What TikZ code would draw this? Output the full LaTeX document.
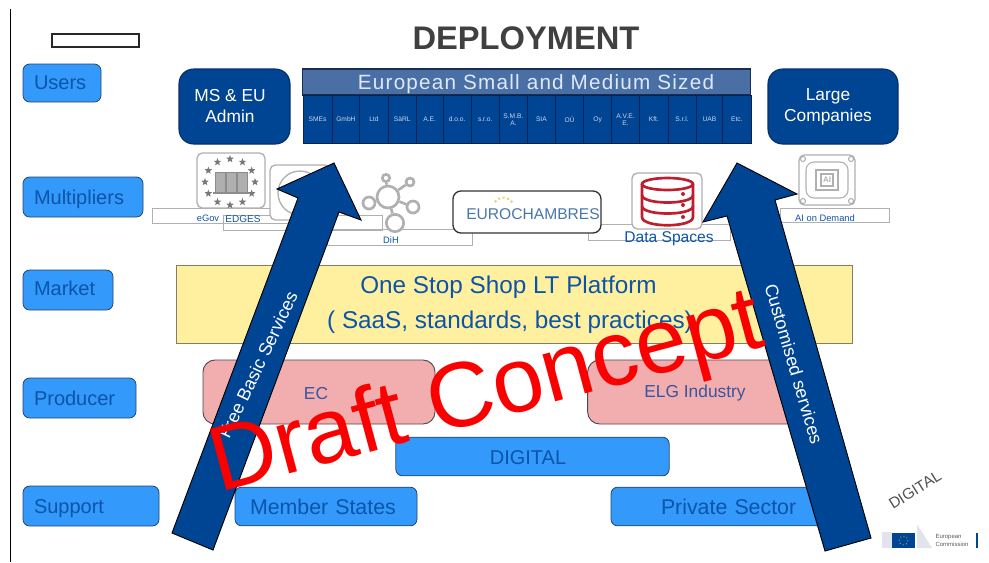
\documentclass[tikz,border=0pt]{standalone}
\usepackage{fontspec}
\setmainfont{Liberation Sans}
\usetikzlibrary{shapes.geometric}
\definecolor{dkblue}{RGB}{0,68,148}
\definecolor{ltblue}{RGB}{51,153,250}
\definecolor{txblue}{RGB}{12,84,170}
\definecolor{hdblue}{RGB}{74,111,165}
\definecolor{pinkfill}{RGB}{242,174,174}
\definecolor{yelbox}{RGB}{255,240,160}
\definecolor{iconrim}{RGB}{176,176,176}
\definecolor{draftred}{RGB}{250,0,0}
\definecolor{markpale}{RGB}{225,228,235}
\definecolor{dbred}{RGB}{190,30,45}
\tikzset{
  rolebox/.style={draw={rgb,255:red,35;green,70;blue,110},fill=ltblue,rounded corners=5pt,line width=0.6pt,text=txblue,align=left,font=\fontsize{15}{18}\selectfont,inner xsep=8.25pt,inner ysep=0pt,text height=13.5pt,text depth=3pt},
  adminbox/.style={draw={rgb,255:red,10;green,45;blue,100},fill=dkblue,rounded corners=11pt,line width=0.8pt,inner sep=0pt},
  admintext/.style={text=white,align=center,font=\fontsize{13}{15.75}\selectfont,inner sep=0pt},
  sizecell/.style={draw={rgb,255:red,10;green,35;blue,80},fill=dkblue,line width=0.6pt,text={rgb,255:red,200;green,215;blue,240},align=center,font=\fontsize{5}{5.5}\selectfont,inner sep=0pt},
  pinkbox/.style={draw={rgb,255:red,80;green,70;blue,80},fill=pinkfill,rounded corners=9pt,line width=0.7pt,inner sep=0pt},
  pinktext/.style={text={rgb,255:red,55;green,85;blue,160},font=\fontsize{13}{16}\selectfont,inner sep=0pt},
  labelbox/.style={draw=iconrim,line width=0.6pt},
  iconbox/.style={draw=iconrim,line width=1pt,rounded corners=4pt,fill=white},
  looptext/.style={text=txblue,font=\fontsize{7}{8}\selectfont,inner sep=0pt},
  hubdot/.style={circle,draw=iconrim,line width=2pt,fill=white,inner sep=0pt},
  bigarrow/.style={draw=black,fill=dkblue,line width=0.7pt,line join=miter},
  arrowtext/.style={text=white,font=\fontsize{13.5}{16}\selectfont,inner sep=0pt},
  shoptext/.style={text=txblue,inner sep=0pt,font=\fontsize{18.2}{21}\selectfont},
}
\begin{document}
\begin{tikzpicture}[x=0.75pt,y=0.75pt,yscale=-1,xscale=1]
\useasboundingbox (0,0) rectangle (989,562);

% frame line and empty box
\draw [line width=0.6pt] (10,9) -- (10,562) ;
\draw [line width=1.2pt,draw={rgb,255:red,40;green,40;blue,40}] (52,34) rectangle (139,47) ;

% Title
\node (title) at (526,38) [text={rgb,255:red,64;green,64;blue,64},inner sep=0pt,font=\fontsize{24.5}{30}\selectfont\bfseries] {DEPLOYMENT};

% Left column
\node (users) [rolebox,text height=12pt,text width=42pt,minimum height=28.5pt] at (62,83) {Users};
\node (multipliers) [rolebox,text width=73.5pt,minimum height=30pt] at (83,197) {Multipliers};
\node (market) [rolebox,text height=10.5pt,text width=51pt,minimum height=30pt] at (68,290) {Market};
\node (producer) [rolebox,text width=68.25pt,minimum height=30pt] at (79.5,398) {Producer};
\node (support) [rolebox,text width=85.5pt,minimum height=30pt] at (91,506) {Support};

% Users row
\node (admin) [adminbox,minimum width=83.25pt,minimum height=56.25pt] at (234.5,106.5) {};
\node (admintx) [admintext] at (230,106.5) {MS \& EU\\Admin};
\node (large) [adminbox,minimum width=97.5pt,minimum height=56.25pt] at (833,106.5) {};
\node (largetx) [admintext] at (828,106.5) {Large\\Companies};
\node (header) [draw={rgb,255:red,25;green,45;blue,80},fill=hdblue,line width=0.8pt,inner sep=0pt,minimum width=335.5pt,minimum height=19.5pt] at (526.5,82) {};
\node (headertx) [text={rgb,255:red,222;green,232;blue,248},inner sep=0pt,font=\fontsize{15.5}{18}\selectfont\addfontfeature{LetterSpace=6}] at (536,84) {European Small and Medium Sized};

% Size cells
\node (c1) [sizecell,anchor=north west,minimum width=21.75pt,minimum height=36pt] at (302.7,95) {SMEs};
\node (c2) [sizecell,anchor=north west,minimum width=20.7pt,minimum height=36pt] at (331.7,95) {GmbH};
\node (c3) [sizecell,anchor=north west,minimum width=21.3pt,minimum height=36pt] at (359.3,95) {Ltd};
\node (c4) [sizecell,anchor=north west,minimum width=21.2pt,minimum height=36pt] at (387.7,95) {SàRL};
\node (c5) [sizecell,anchor=north west,minimum width=20pt,minimum height=36pt] at (416,95) {A.E.};
\node (c6) [sizecell,anchor=north west,minimum width=21pt,minimum height=36pt] at (442.7,95) {d.o.o.};
\node (c7) [sizecell,anchor=north west,minimum width=21.2pt,minimum height=36pt] at (470.7,95) {s.r.o.};
\node (c8) [sizecell,anchor=north west,minimum width=21pt,minimum height=36pt] at (499,95) {S.M.B.\\A.};
\node (c9) [sizecell,anchor=north west,minimum width=21pt,minimum height=36pt] at (527,95) {SIA};
\node (c10) [sizecell,anchor=north west,minimum width=21.2pt,minimum height=36pt] at (555,95) {OÜ};
\node (c11) [sizecell,anchor=north west,minimum width=20.8pt,minimum height=36pt] at (583.3,95) {Oy};
\node (c12) [sizecell,anchor=north west,minimum width=21.2pt,minimum height=36pt] at (611,95) {A.V.E.\\E.};
\node (c13) [sizecell,anchor=north west,minimum width=21.3pt,minimum height=36pt] at (639.3,95) {Kft.};
\node (c14) [sizecell,anchor=north west,minimum width=21pt,minimum height=36pt] at (667.7,95) {S.r.l.};
\node (c15) [sizecell,anchor=north west,minimum width=20pt,minimum height=36pt] at (695.7,95) {UAB};
\node (c16) [sizecell,anchor=north west,minimum width=21.3pt,minimum height=36pt] at (722.3,95) {Etc.};

% Label frames of the multipliers
\draw [labelbox] (152,208) rectangle (300,223) ;
\draw [labelbox] (223,215) rectangle (382,230) ;
\draw [labelbox] (327,229) rectangle (472,245) ;
\draw [labelbox] (588,224) rectangle (730,240) ;
\draw [labelbox] (780,208) rectangle (889,222) ;

% eGov icon
\draw [iconbox] (197,153) rectangle (265,208) ;
\foreach \a in {0,30,...,330}
  \node [star,star points=5,star point ratio=2.4,fill={rgb,255:red,120;green,120;blue,120},inner sep=0pt,minimum size=6pt] at ({230+25*cos(\a)},{182+23*sin(\a)}) {};
\foreach \x in {215,226,237}
  \draw [fill={rgb,255:red,175;green,175;blue,175},draw={rgb,255:red,140;green,140;blue,140},line width=0.5pt] (\x,172) rectangle ++(10,20) ;
\draw [draw={rgb,255:red,140;green,140;blue,140},line width=1pt] (213,193) -- (249,193) ;

% EDGES icon
\draw [iconbox] (270,165) rectangle (330,220) ;
\draw [iconrim,line width=1pt] (300,193) circle [radius=22] ;

% DiH icon
\node (hub) [hubdot,minimum size=16.5pt] at (388,197) {};
\node (dh1) [hubdot,minimum size=5.5pt] at (386,178) {};
\node (dh2) [hubdot,minimum size=6pt] at (410,182) {};
\node (dh3) [hubdot,minimum size=9pt] at (369,203) {};
\node (dh4) [hubdot,minimum size=9pt] at (413,207) {};
\node (dh5) [hubdot,minimum size=13pt] at (395,223) {};
\draw [iconrim,line width=2pt] (hub) -- (dh1) (hub) -- (dh2) (hub) -- (dh3) (hub) -- (dh4) (hub) -- (dh5) ;

% Eurochambres
\draw [draw={rgb,255:red,50;green,50;blue,50},line width=1pt,rounded corners=6pt,fill=white] (453,191) rectangle (601,233) ;
\node (euro) at (533,214) [text={rgb,255:red,72;green,118;blue,170},inner sep=0pt,font=\fontsize{11.7}{14}\selectfont] {EUROCHAMBRES};
\draw [draw={rgb,255:red,230;green,205;blue,90},line width=1.4pt,dotted] (495,202) .. controls (500,196) and (507,196) .. (513,203) ;

% Data spaces icon
\draw [iconbox] (632,173) rectangle (702,229) ;
\draw [dbred,line width=2pt] (642,184) -- (642,217) .. controls (642,228) and (693,228) .. (693,217) -- (693,184) ;
\draw [dbred,line width=2pt] (667.5,184) ellipse [x radius=25.5,y radius=6] ;
\draw [dbred,line width=2pt] (642,195) .. controls (642,205) and (693,205) .. (693,195) (642,206) .. controls (642,216) and (693,216) .. (693,206) ;
\fill [dbred] (683,194) circle [radius=2] (683,205) circle [radius=2] (683,217) circle [radius=2] ;

% AI icon
\draw [iconbox] (799,155) rectangle (855,205) ;
\draw [iconrim,line width=0.8pt,rounded corners=6pt] (806,162) rectangle (848,198) ;
\draw [iconrim,line width=1pt] (816,170) rectangle (838,190) ;
\draw [iconrim,line width=0.8pt] (821,174) rectangle (833,186) ;
\foreach \x/\y in {803/159,851/159,803/201,851/201}
  \draw [iconrim,line width=0.8pt] (\x,\y) circle [radius=2.5] ;
\node (ai) at (827,180) [text=iconrim,inner sep=0pt,font=\fontsize{6}{7}\selectfont\bfseries] {AI};

% Multiplier labels
\node (egov) [looptext] at (208,218) {eGov};
\node (edges) [looptext,font=\fontsize{7.5}{9}\selectfont] at (243,219) {EDGES};
\node (dih) [looptext] at (391,240) {DiH};
\node (spaces) [text=txblue,inner sep=0pt,font=\fontsize{11.7}{14}\selectfont] at (669,239) {Data Spaces};
\node (demand) [looptext] at (825,218) {AI on Demand};

% Market
\node (platform) [draw={rgb,255:red,130;green,125;blue,100},fill=yelbox,line width=0.5pt,inner sep=0pt,minimum width=507pt,minimum height=58.5pt] at (514,304) {};
\node (oneshop) [shoptext] at (508.5,287) {One Stop Shop LT Platform};
\node (saas) [shoptext] at (510,322) {( SaaS, standards, best practices)};

% Producer
\node (ec) [pinkbox,minimum width=174pt,minimum height=48pt] at (319,392) {};
\node (ectx) [pinktext] at (316,394) {EC};
\node (elg) [pinkbox,minimum width=170pt,minimum height=48pt] at (701,392) {};
\node (elgtx) [pinktext] at (695,393) {ELG Industry};

% Support
\node (digital) [rolebox,text height=15pt,inner xsep=70.5pt,text width=64pt,minimum height=29pt] at (532.5,456.5) {DIGITAL};
\node (states) [rolebox,text height=15pt,inner xsep=11.25pt,text width=114pt,minimum height=29pt,font=\fontsize{16}{18}\selectfont] at (326,506.5) {Member States};
\node (private) [rolebox,text height=15pt,inner xsep=37.5pt,text width=100.5pt,minimum height=29pt,font=\fontsize{16}{18}\selectfont] at (728,506.5) {\mbox{Private Sector}};

% Big arrows
\draw [bigarrow] (172,533) -- (298,198) -- (277,189) -- (334,163) -- (361,220) -- (339,212) -- (213,550) -- cycle ;
\draw [bigarrow] (871,538) -- (775,200) -- (797,194) -- (737,163) -- (703,222) -- (727,216) -- (825,551) -- cycle ;
\node (free) [arrowtext,rotate=64.4] at (258,365) {Free Basic Services};
\node (custom) [arrowtext,rotate=-73.6] at (794,364) {Customised services};

% Commission mark
\node (dgmark) [text={rgb,255:red,80;green,80;blue,80},inner sep=0pt,rotate=32,font=\fontsize{11.5}{14}\selectfont] at (915,490) {DIGITAL};
\fill [markpale] (882,532) rectangle (892,548) ;
\fill [markpale] (917,524) -- (932,548) -- (917,548) -- cycle ;
\fill [dkblue] (892,533) rectangle (915,548) ;
\draw [draw={rgb,255:red,240;green,220;blue,80},line width=0.6pt,dotted] (903.5,540.5) circle [radius=4.5] ;
\node (eclabel) [text={rgb,255:red,90;green,90;blue,90},inner sep=0pt,align=left,font=\fontsize{4.5}{6}\selectfont] at (952,540) {European\\Commission};
\draw [draw=dkblue,line width=1pt] (977,533) -- (977,548) ;

% Overlay
\node (draft) [text=draftred,inner sep=0pt,rotate=15,font=\fontsize{69}{75}\selectfont] at (487,396) {Draft Concept};
\end{tikzpicture}
\end{document}
